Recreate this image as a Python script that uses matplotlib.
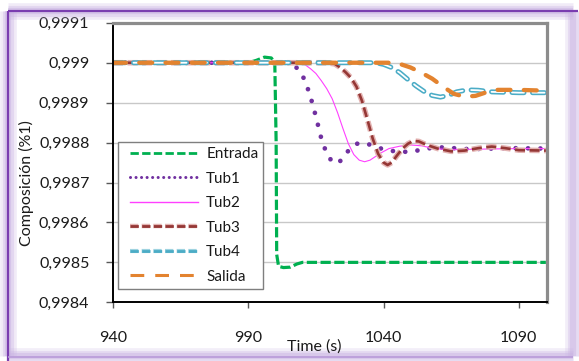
import matplotlib
matplotlib.use("Agg")
import matplotlib.pyplot as plt
from matplotlib.lines import Line2D
from matplotlib.legend_handler import HandlerLine2D
import matplotlib.patheffects as pe
from matplotlib.ticker import FixedLocator, FuncFormatter

plt.rcParams['font.family'] = ['Lato', 'DejaVu Sans']

W, H, DPI = 579, 361, 100

# ---- data -------------------------------------------------------------
entrada_t = [940, 990, 993, 996, 998.5, 999.8, 1000.3, 1000.5, 1001.2, 1003, 1005.5, 1008, 1010, 1100]
entrada_v = [0.99900, 0.99900, 0.999006, 0.999014, 0.999012, 0.999000, 0.998800, 0.998520,
             0.998490, 0.998487, 0.998488, 0.998496, 0.998500, 0.998500]

tub1_t = [940, 1004, 1007, 1009, 1011, 1013, 1015, 1017, 1019, 1021, 1023, 1025, 1027, 1029,
          1031, 1034, 1038, 1042, 1046, 1050, 1054, 1058, 1062, 1066, 1070, 1075, 1080, 1085,
          1090, 1100]
tub1_v = [0.99900, 0.99900, 0.998993, 0.998980, 0.998955, 0.998915, 0.998865, 0.998810,
          0.998772, 0.998752, 0.998748, 0.998760, 0.998780, 0.998794, 0.998799, 0.998797,
          0.998787, 0.998780, 0.998777, 0.998777, 0.998782, 0.998787, 0.998788, 0.998786,
          0.998784, 0.998784, 0.998785, 0.998786, 0.998786, 0.998785]

tub2_t = [940, 1008, 1011, 1013, 1015, 1017, 1019, 1021, 1023, 1025, 1027, 1029, 1031, 1033,
          1035, 1037, 1039, 1042, 1046, 1050, 1054, 1058, 1064, 1070, 1080, 1090, 1100]
tub2_v = [0.99900, 0.99900, 0.998995, 0.998985, 0.998973, 0.998955, 0.998935, 0.998910,
          0.998875, 0.998835, 0.998797, 0.998770, 0.998756, 0.998752, 0.998756, 0.998765,
          0.998774, 0.998785, 0.998791, 0.998794, 0.998792, 0.998786, 0.998782, 0.998783,
          0.998784, 0.998785, 0.998785]

tub3_t = [940, 1019, 1022, 1024, 1026, 1028, 1030, 1032, 1034, 1036, 1038, 1040, 1041.5, 1043,
          1045, 1047, 1049, 1051, 1053, 1056, 1060, 1065, 1070, 1075, 1080, 1085, 1090, 1100]
tub3_v = [0.99900, 0.99900, 0.998997, 0.998988, 0.998976, 0.998962, 0.998940, 0.998905,
          0.998858, 0.998810, 0.998772, 0.998750, 0.998744, 0.998750, 0.998768, 0.998785,
          0.998797, 0.998804, 0.998803, 0.998794, 0.998785, 0.998778, 0.998780, 0.998786,
          0.998790, 0.998786, 0.998781, 0.998780]

tub4_t = [940, 1037, 1040, 1043, 1046, 1049, 1052, 1055, 1058, 1061, 1064, 1067, 1071, 1075,
          1080, 1090, 1100]
tub4_v = [0.99900, 0.99900, 0.998996, 0.998988, 0.998975, 0.998958, 0.998942, 0.998928,
          0.998918, 0.998914, 0.998918, 0.998927, 0.998932, 0.998931, 0.998927, 0.998925,
          0.998925]

salida_t = [940, 1042, 1046, 1050, 1054, 1058, 1062, 1066, 1070, 1074, 1078, 1082, 1090, 1100]
salida_v = [0.99900, 0.99900, 0.998997, 0.998988, 0.998975, 0.998960, 0.998940, 0.998922,
            0.998915, 0.998917, 0.998926, 0.998932, 0.998932, 0.998930]

series_names = ["Entrada", "Tub1", "Tub2", "Tub3", "Tub4", "Salida"]
x_ticks = [940, 990, 1040, 1090]
y_ticks = [0.9984, 0.9985, 0.9986, 0.9987, 0.9988, 0.9989, 0.9990, 0.9991]

GREEN = '#00B050'
PURPLE = '#7030A0'
MAGENTA = '#FF40FF'
DARKRED = '#953735'
TEAL = '#4BACC6'
ORANGE = '#E3832F'

# ---- figure ------------------------------------------------------------
fig = plt.figure(figsize=(W / DPI, H / DPI), dpi=DPI)
fig.patch.set_facecolor('white')


def fx(x):
    return x / W


def fy(y):
    return 1 - y / H


ax = fig.add_axes([fx(113), fy(302.3), (546.7 - 113) / W, (302.3 - 22.8) / H])

ax.plot(entrada_t, entrada_v, color=GREEN, lw=2.3, ls=(0, (3.2, 1.1)))
ax.plot(tub1_t, tub1_v, color=PURPLE, lw=3.4, ls=(0, (0.01, 2.6)),
        dash_capstyle='round')
ax.plot(tub2_t, tub2_v, color=MAGENTA, lw=0.8)
ax.plot(tub3_t, tub3_v, color=DARKRED, lw=1.9, ls=(0, (3.8, 1.7)),
        path_effects=[pe.Stroke(linewidth=4.0, foreground='#E3B3B2'), pe.Normal()])
ax.plot(tub4_t, tub4_v, color=TEAL, lw=3.6, ls=(0, (2.4, 1.7)), dash_capstyle='round',
        path_effects=[pe.Normal(), pe.Stroke(linewidth=1.3, foreground='white')])
ax.plot(salida_t, salida_v, color=ORANGE, lw=3.1, ls=(0, (3.0, 3.1)), dash_capstyle='round')

ax.set_xlim(940, 1100.3)
ax.set_ylim(0.9984, 0.9991)
ax.xaxis.set_major_locator(FixedLocator(x_ticks))
ax.yaxis.set_major_locator(FixedLocator(y_ticks))


def ylab(v, _pos):
    return f"{v:.4f}".rstrip('0').replace('.', ',')


ax.yaxis.set_major_formatter(FuncFormatter(ylab))
ax.tick_params(axis='y', direction='out', length=5, width=1, color='#595959',
               pad=12, labelsize=11.5, labelcolor='#1a1a1a')
ax.tick_params(axis='x', direction='out', length=4.5, width=1, color='#595959',
               pad=16, labelsize=11.5, labelcolor='#1a1a1a')

ax.yaxis.grid(True, color='#C8C8C8', lw=1.0)
ax.set_axisbelow(True)
for side in ('left', 'bottom'):
    ax.spines[side].set_color('black')
    ax.spines[side].set_linewidth(1.4)
for side in ('top', 'right'):
    ax.spines[side].set_color('#8C8C8C')
    ax.spines[side].set_linewidth(2.3)

fig.text(fx(26), fy(183), "Composición (%1)", rotation=90, ha='center', va='center',
         fontsize=11.5, color='#1a1a1a')
fig.text(fx(314), fy(347), "Time (s)", ha='center', va='center',
         fontsize=11.5, color='#1a1a1a')

# ---- legend ------------------------------------------------------------
handles = [
    Line2D([], [], color=GREEN, lw=2.0, ls=(0, (3.0, 1.2))),
    Line2D([], [], color=PURPLE, lw=2.2, ls=(0, (0.01, 1.8)), dash_capstyle='round'),
    Line2D([], [], color=MAGENTA, lw=1.0),
    Line2D([], [], color=DARKRED, lw=2.0, ls=(0, (3.0, 1.2)),
           path_effects=[pe.Stroke(linewidth=3.2, foreground='#E3B3B2'), pe.Normal()]),
    Line2D([], [], color=TEAL, lw=2.0, ls=(0, (3.0, 1.2)),
           path_effects=[pe.Stroke(linewidth=3.0, foreground='#9FD3E0'), pe.Normal()]),
    Line2D([], [], color=ORANGE, lw=2.2, ls=(0, (4.5, 3.6))),
]
leg = fig.legend(handles, series_names, loc='upper left',
                 bbox_to_anchor=(fx(118), fy(142)), bbox_transform=fig.transFigure,
                 borderaxespad=0, fontsize=11, handlelength=4.92, handletextpad=0.52,
                 labelspacing=0.69, borderpad=0.33, fancybox=False, framealpha=1,
                 edgecolor='#7F7F7F',
                 handler_map={Line2D: HandlerLine2D(xpad=0.48)})
leg.get_frame().set_linewidth(1.0)
for txt in leg.get_texts():
    txt.set_color('#1a1a1a')

# ---- outer purple frame ------------------------------------------------
def fline(xs, ys, **kw):
    fig.add_artist(Line2D([fx(v) for v in xs], [fy(v) for v in ys],
                          transform=fig.transFigure, **kw))


glow = '#C9B3E3'
for lw, a in ((12, 0.25), (8, 0.35), (4.5, 0.5)):
    fline([8, 573], [11, 11], color=glow, lw=lw, alpha=a, solid_capstyle='butt')
    fline([8, 8], [11, 356], color=glow, lw=lw, alpha=a, solid_capstyle='butt')
    fline([573, 573], [11, 356], color=glow, lw=lw, alpha=a * 0.9, solid_capstyle='butt')
    fline([8, 573], [356, 356], color=glow, lw=lw, alpha=a * 0.9, solid_capstyle='butt')
fline([8, 578], [11, 11], color='#7A3DB0', lw=1.6, solid_capstyle='butt')
fline([8, 8], [11, 361], color='#7A3DB0', lw=1.6, solid_capstyle='butt')
fline([8, 573], [357, 357], color='#B89AD8', lw=1.2, solid_capstyle='butt')

fig.savefig('out.png', dpi=DPI)
